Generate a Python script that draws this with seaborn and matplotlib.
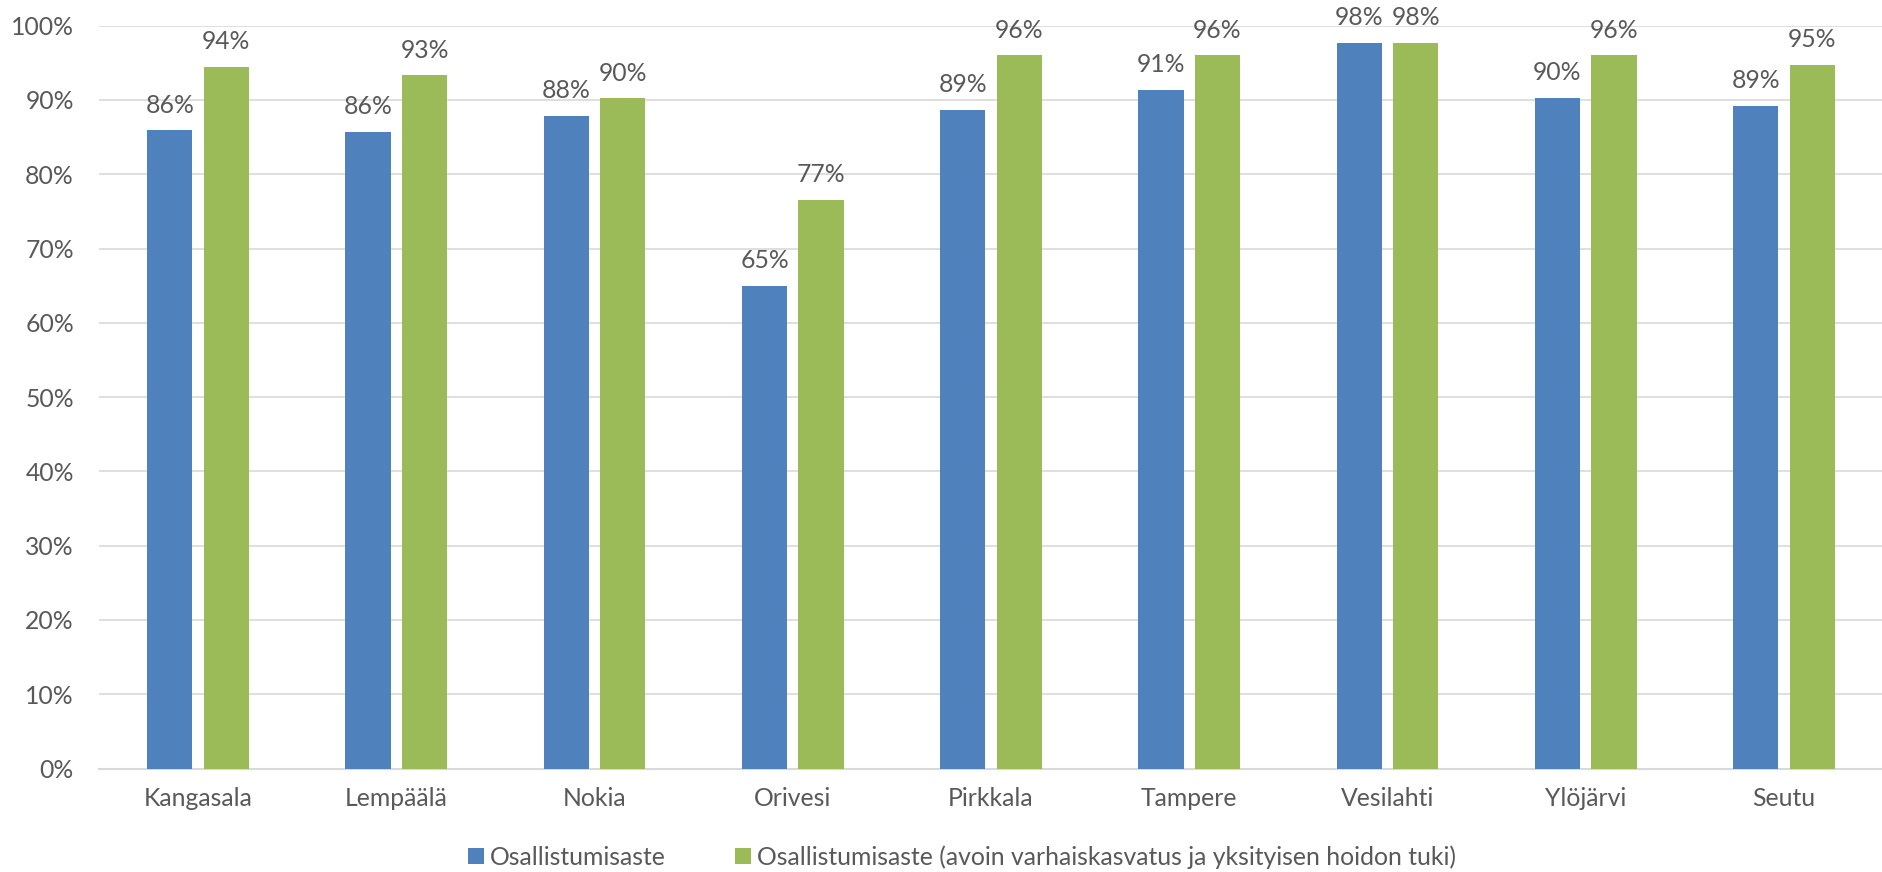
import matplotlib
matplotlib.use("Agg")
import matplotlib.pyplot as plt
import seaborn as sns
import pandas as pd
from matplotlib.ticker import PercentFormatter, MultipleLocator

kunnat = ["Kangasala", "Lempäälä", "Nokia", "Orivesi", "Pirkkala",
          "Tampere", "Vesilahti", "Ylöjärvi", "Seutu"]
sarja1_nimi = "Osallistumisaste"
sarja2_nimi = "Osallistumisaste (avoin varhaiskasvatus ja yksityisen hoidon tuki)"
sarja1 = [0.859, 0.857, 0.878, 0.650, 0.887, 0.913, 0.977, 0.903, 0.892]
sarja2 = [0.944, 0.933, 0.902, 0.766, 0.960, 0.960, 0.977, 0.960, 0.947]

BLUE = "#4F81BD"
GREEN = "#9BBB59"
TEXT = "#595959"
GRID = "#D9D9D9"
FS = 17.8

df = pd.DataFrame({
    "Kunta": kunnat * 2,
    "Arvo": sarja1 + sarja2,
    "Sarja": [sarja1_nimi] * len(kunnat) + [sarja2_nimi] * len(kunnat),
})

sns.set_theme(style="white")
plt.rcParams["font.family"] = ["Lato", "DejaVu Sans"]

fig = plt.figure(figsize=(18.83, 8.72), dpi=100)
ax = fig.add_axes([99 / 1883, 1 - 768.5 / 872, 1 - 99 / 1883, (768.5 - 25.7) / 872])

sns.barplot(data=df, x="Kunta", y="Arvo", hue="Sarja",
            palette=[BLUE, GREEN], saturation=1, width=0.57, gap=0.2,
            linewidth=0, ax=ax, zorder=3)

ax.set_ylim(0, 1.0)
ax.yaxis.set_major_locator(MultipleLocator(0.1))
ax.yaxis.set_major_formatter(PercentFormatter(1.0, decimals=0))
ax.grid(axis="y", color=GRID, linewidth=1.2, zorder=0)
ax.grid(axis="x", visible=False)
ax.set_axisbelow(True)
for s in ["top", "right", "left"]:
    ax.spines[s].set_visible(False)
ax.spines["bottom"].set_color(GRID)
ax.spines["bottom"].set_linewidth(1.5)
ax.set_xlabel("")
ax.set_ylabel("")
ax.tick_params(axis="y", length=0, pad=18, labelsize=FS, labelcolor=TEXT)
ax.tick_params(axis="x", length=0, pad=13, labelsize=FS, labelcolor=TEXT)

for cont in ax.containers:
    labels = [f"{v:.0%}" for v in cont.datavalues]
    ax.bar_label(cont, labels=labels, padding=10, fontsize=FS, color=TEXT, clip_on=False)

ax.get_legend().remove()
handles, lbls = ax.get_legend_handles_labels()
fig.legend(handles, lbls, loc="center", bbox_to_anchor=(962 / 1883, 15 / 872),
           ncol=2, frameon=False, fontsize=FS, labelcolor=TEXT,
           handlelength=0.65, handleheight=0.65, handletextpad=0.25,
           columnspacing=2.8, borderpad=0, borderaxespad=0)

fig.savefig("out.png", dpi=100)
